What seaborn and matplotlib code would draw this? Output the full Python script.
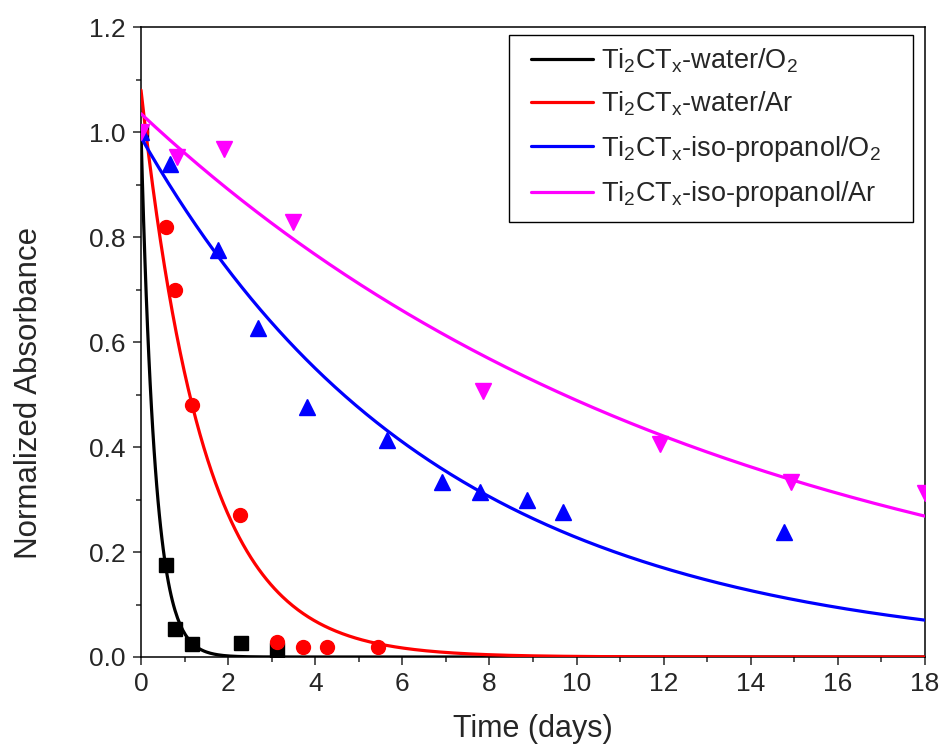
import numpy as np
import pandas as pd
import matplotlib
matplotlib.use("Agg")
import matplotlib.pyplot as plt
from matplotlib.patches import Rectangle
from matplotlib.ticker import MultipleLocator, FormatStrFormatter
import seaborn as sns

# Measured normalized absorbance vs. time (days)
water_o2_t = [0.0, 0.58, 0.78, 1.17, 2.30, 3.13]
water_o2_a = [1.0, 0.175, 0.053, 0.025, 0.027, 0.013]

water_ar_t = [0.0, 0.58, 0.78, 1.17, 2.28, 3.13, 3.73, 4.26, 5.44]
water_ar_a = [1.0, 0.82, 0.70, 0.48, 0.27, 0.029, 0.019, 0.019, 0.019]

ipa_o2_t = [0.0, 0.67, 1.77, 2.69, 3.80, 5.64, 6.90, 7.78, 8.86, 9.70, 14.76]
ipa_o2_a = [1.0, 0.94, 0.775, 0.627, 0.476, 0.413, 0.333, 0.314, 0.30, 0.276, 0.238]

ipa_ar_t = [0.0, 0.83, 1.91, 3.48, 7.85, 11.92, 14.92, 18.0]
ipa_ar_a = [1.0, 0.952, 0.968, 0.829, 0.507, 0.406, 0.333, 0.312]

# Single-exponential decay fits: A * exp(-k t)
fit_amp = [1.0, 1.08, 0.99, 1.035]
fit_rate = [3.1, 0.69, 0.147, 0.075]

labels = [r"Ti$_2$CT$_x$-water/O$_2$", r"Ti$_2$CT$_x$-water/Ar",
          r"Ti$_2$CT$_x$-iso-propanol/O$_2$", r"Ti$_2$CT$_x$-iso-propanol/Ar"]
colors = ["#000000", "#ff0000", "#0000ff", "#ff00ff"]
markers = ["s", "o", "^", "v"]
msizes = [10, 10, 12, 12]

sns.set_style("ticks")
plt.rcParams["font.family"] = ["Liberation Sans", "DejaVu Sans"]
plt.rcParams["mathtext.fontset"] = "custom"
plt.rcParams["mathtext.rm"] = "Liberation Sans"
plt.rcParams["mathtext.it"] = "Liberation Sans"
plt.rcParams["mathtext.default"] = "regular"

fig = plt.figure(figsize=(9.4, 7.53), dpi=100)
ax = fig.add_axes([0.15, 0.1275, 0.834, 0.8365])

series = [(water_o2_t, water_o2_a), (water_ar_t, water_ar_a),
          (ipa_o2_t, ipa_o2_a), (ipa_ar_t, ipa_ar_a)]

t_fit = np.linspace(0, 18, 600)
for i, (t, a) in enumerate(series):
    curve = pd.DataFrame({"t": t_fit, "a": fit_amp[i] * np.exp(-fit_rate[i] * t_fit)})
    sns.lineplot(data=curve, x="t", y="a", color=colors[i], lw=2.3,
                 label=labels[i], ax=ax, zorder=3)

for i, (t, a) in enumerate(series):
    pts = pd.DataFrame({"t": t, "a": a})
    ax.plot(pts["t"], pts["a"], ls="none", marker=markers[i], ms=msizes[i],
            color=colors[i], mec=colors[i], zorder=4)

ax.set_xlim(0, 18)
ax.set_ylim(0, 1.2)
ax.xaxis.set_major_locator(MultipleLocator(2))
ax.xaxis.set_minor_locator(MultipleLocator(1))
ax.yaxis.set_major_locator(MultipleLocator(0.2))
ax.yaxis.set_minor_locator(MultipleLocator(0.1))
ax.yaxis.set_major_formatter(FormatStrFormatter("%.1f"))
ax.tick_params(which="major", direction="out", length=6, width=1.1, labelsize=19, pad=5)
ax.tick_params(which="minor", direction="out", length=3.5, width=1.1)
for s in ax.spines.values():
    s.set_linewidth(1.1)
    s.set_color("black")

ax.set_xlabel("Time (days)", fontsize=22, labelpad=13)
ax.set_ylabel("Normalized Absorbance", fontsize=22.5)
ax.yaxis.set_label_coords(-0.124, 0.42)

# legend box drawn as a separate frame, entries placed inside it
ax.add_patch(Rectangle((0.469, 0.690), 0.516, 0.297, transform=ax.transAxes,
                       facecolor="white", edgecolor="black", lw=1.0, zorder=4.5))
leg = ax.legend(loc="upper left", bbox_to_anchor=(0.497, 0.970), fontsize=19.5,
                frameon=False, handlelength=2.3, handletextpad=0.3,
                borderaxespad=0, borderpad=0, labelspacing=0.57)
leg.set_zorder(6)

fig.savefig("out.png", dpi=100)
